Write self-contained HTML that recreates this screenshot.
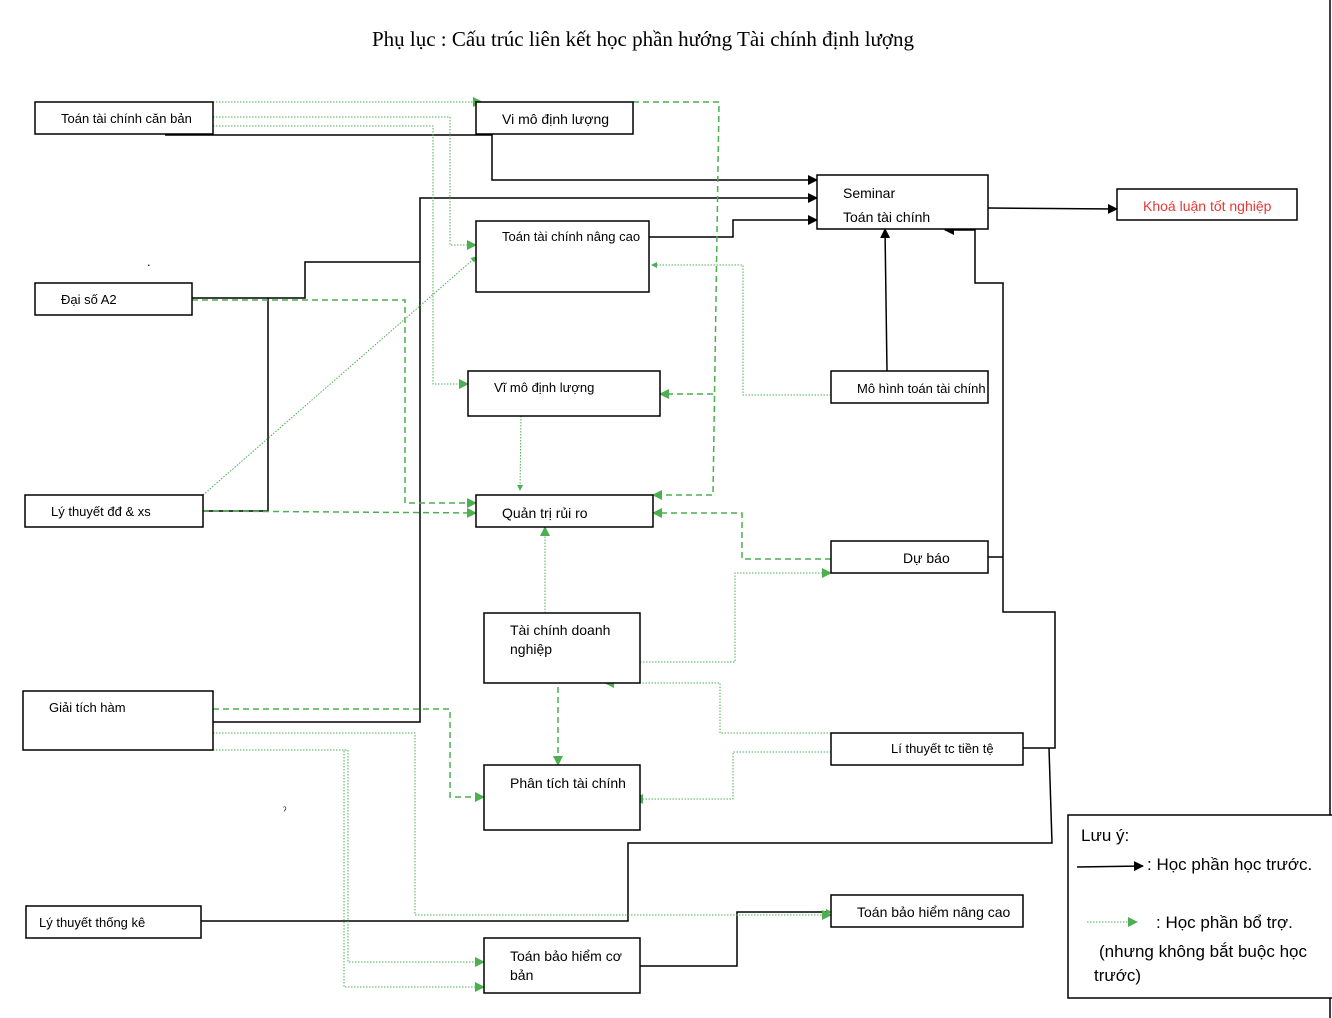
<!DOCTYPE html>
<html><head><meta charset="utf-8"><style>
html,body{margin:0;padding:0;background:#fff;}
svg{display:block;}
text{font-family:"Liberation Sans","DejaVu Sans",sans-serif;font-size:13px;fill:#000;}
.b{fill:#fff;stroke:#000;stroke-width:1.5;}
.k{fill:none;stroke:#000;stroke-width:1.5;}
.gd{fill:none;stroke:#4caf50;stroke-width:1.5;stroke-dasharray:6,4;}
.gt{fill:none;stroke:#4caf50;stroke-width:1;stroke-dasharray:1.5,1.5;}
</style></head><body>
<svg width="1332" height="1018" viewBox="0 0 1332 1018" xmlns="http://www.w3.org/2000/svg">
<defs>
<marker id="ak" markerWidth="10" markerHeight="10" refX="9" refY="5" orient="auto" markerUnits="userSpaceOnUse"><path d="M0,0 L10,5 L0,10z" fill="#000"/></marker>
<marker id="ag" markerWidth="10" markerHeight="10" refX="9" refY="5" orient="auto" markerUnits="userSpaceOnUse"><path d="M0,0 L10,5 L0,10z" fill="#4caf50"/></marker>
<marker id="as" markerWidth="6" markerHeight="6" refX="5" refY="3" orient="auto" markerUnits="userSpaceOnUse"><path d="M0,0 L6,3 L0,6z" fill="#4caf50"/></marker>
</defs>
<line x1="1330" y1="0" x2="1330" y2="1018" stroke="#000" stroke-width="1.5"/>
<text x="643" y="46" text-anchor="middle" style="font-family:'Liberation Serif',serif;font-size:21px">Phụ lục : Cấu trúc liên kết học phần hướng Tài chính định lượng</text>

<polyline class="k" points="165,135 492,135 492,180 817,180" marker-end="url(#ak)"/>
<polyline class="k" points="213,722 420,722 420,198 817,198" marker-end="url(#ak)"/>
<polyline class="k" points="192,298 305,298 305,262 420,262"/>
<polyline class="k" points="268,298 268,511 203,511"/>
<polyline class="k" points="649,237 733,237 733,220 817,220" marker-end="url(#ak)"/>
<polyline class="k" points="988,208 1117,209" marker-end="url(#ak)"/>
<polyline class="k" points="887,371 885,229" marker-end="url(#ak)"/>
<polyline class="k" points="1023,748 1055,748 1055,612 1003,612 1003,283 975,283 975,230 945,230" marker-end="url(#ak)"/>
<polyline class="k" points="988,557 1003,557"/>
<polyline class="k" points="1049,748 1052,843 628,843 628,921 201,921"/>
<polyline class="k" points="640,966 737,966 737,912 831,912" marker-end="url(#as)"/>

<polyline class="gd" points="633,102 719,102 713,495 653,495" marker-end="url(#ag)"/>
<polyline class="gd" points="713,394 660,394" marker-end="url(#ag)"/>
<polyline class="gd" points="192,300 405,300 405,503 476,503" marker-end="url(#ag)"/>
<polyline class="gd" points="203,511 476,513" marker-end="url(#ag)"/>
<polyline class="gd" points="831,559 742,559 742,513 653,513" marker-end="url(#ag)"/>
<polyline class="gd" points="558,687 558,765" marker-end="url(#ag)"/>
<polyline class="gd" points="213,709 450,709 450,797 484,797" marker-end="url(#ag)"/>
<polyline class="gt" points="213,102 482,102" marker-end="url(#ag)"/>
<polyline class="gt" points="213,117 450,117 450,245 476,245" marker-end="url(#ag)"/>
<polyline class="gt" points="213,126 433,126 433,384 468,384" marker-end="url(#ag)"/>
<polyline class="gt" points="203,495 476,257" marker-end="url(#as)"/>
<polyline class="gt" points="831,395 743,395 743,265 652,265" marker-end="url(#as)"/>
<polyline class="gt" points="521,416 520,490" marker-end="url(#as)"/>
<polyline class="gt" points="545,613 545,527" marker-end="url(#ag)"/>
<polyline class="gt" points="640,662 735,662 735,573 831,573" marker-end="url(#ag)"/>
<polyline class="gt" points="831,733 720,733 720,683 605,683" marker-end="url(#ag)"/>
<polyline class="gt" points="831,752 733,752 733,799 634,799" marker-end="url(#ag)"/>
<polyline class="gt" points="213,733 415,733 415,915 831,915" marker-end="url(#ag)"/>
<polyline class="gt" points="213,750 348,750 348,962 484,962" marker-end="url(#ag)"/>
<polyline class="gt" points="346,750 344,750 344,987 484,987" marker-end="url(#ag)"/>

<rect class="b" x="35" y="102" width="178" height="32"/><text x="61" y="123">Toán tài chính căn bản</text>
<rect class="b" x="476" y="102" width="157" height="32"/><text x="502" y="124" style="font-size:14px">Vi mô định lượng</text>
<rect class="b" x="817" y="175" width="171" height="54"/><text x="843" y="198" style="font-size:14px">Seminar</text><text x="843" y="222" style="font-size:14px">Toán tài chính</text>
<rect class="b" x="1117" y="189" width="180" height="31"/><text x="1143" y="211" style="font-size:14px;fill:#e53935">Khoá luận tốt nghiệp</text>
<rect class="b" x="476" y="221" width="173" height="71"/><text x="502" y="241">Toán tài chính nâng cao</text>
<rect class="b" x="35" y="283" width="157" height="32"/><text x="61" y="304">Đại số A2</text>
<rect class="b" x="468" y="371" width="192" height="45"/><text x="494" y="392">Vĩ mô định lượng</text>
<rect class="b" x="831" y="371" width="157" height="32"/><text x="857" y="393">Mô hình toán tài chính</text>
<rect class="b" x="25" y="495" width="178" height="32"/><text x="51" y="516">Lý thuyết đđ &amp; xs</text>
<rect class="b" x="476" y="495" width="177" height="32"/><text x="502" y="518" style="font-size:14px">Quản trị rủi ro</text>
<rect class="b" x="831" y="541" width="157" height="32"/><text x="903" y="563" style="font-size:14px">Dự báo</text>
<rect class="b" x="484" y="613" width="156" height="70"/><text x="510" y="635" style="font-size:14px">Tài chính doanh</text><text x="510" y="654" style="font-size:14px">nghiệp</text>
<rect class="b" x="23" y="691" width="190" height="59"/><text x="49" y="712">Giải tích hàm</text>
<rect class="b" x="831" y="733" width="192" height="32"/><text x="891" y="753">Lí thuyết tc tiền tệ</text>
<rect class="b" x="484" y="765" width="156" height="65"/><text x="510" y="788" style="font-size:14px">Phân tích tài chính</text>
<rect class="b" x="831" y="895" width="192" height="32"/><text x="857" y="917" style="font-size:14px">Toán bảo hiểm nâng cao</text>
<rect class="b" x="26" y="906" width="175" height="32"/><text x="39" y="927">Lý thuyết thống kê</text>
<rect class="b" x="484" y="938" width="156" height="55"/><text x="510" y="961" style="font-size:14px">Toán bảo hiểm cơ</text><text x="510" y="980" style="font-size:14px">bản</text>
<text x="147" y="266">.</text><text x="283" y="814" style="font-size:10px">ˀ</text>

<rect class="b" x="1068" y="815" width="270" height="183"/>
<text x="1081" y="841" style="font-size:17px">Lưu ý:</text>
<line x1="1077" y1="867" x2="1143" y2="866" stroke="#000" stroke-width="1.5" marker-end="url(#ak)"/>
<text x="1147" y="870" style="font-size:17px">: Học phần học trước.</text>
<line x1="1087" y1="922" x2="1137" y2="922" class="gt" marker-end="url(#ag)"/>
<text x="1156" y="928" style="font-size:17px">: Học phần  bổ trợ.</text>
<text x="1099" y="957" style="font-size:17px">(nhưng không bắt buộc học</text>
<text x="1094" y="981" style="font-size:17px">trước)</text>
</svg>
</body></html>
